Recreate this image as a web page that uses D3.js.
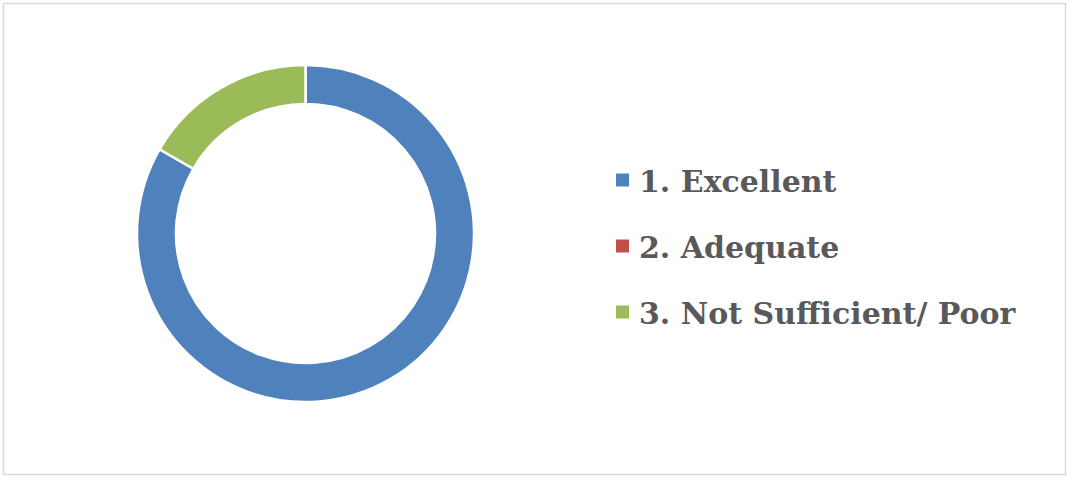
<!DOCTYPE html>
<html>
<head>
<meta charset="utf-8">
<script src="https://cdn.jsdelivr.net/npm/d3@7"></script>
<style>
  html, body { margin: 0; padding: 0; background: #fff; }
  svg { display: block; }
</style>
</head>
<body>
<svg id="chart" width="1067" height="477"></svg>
<script>
const categories = ["1. Excellent", "2. Adequate", "3. Not Sufficient/ Poor"];
const values = [5, 0, 1];
const colors = ["#4F81BD", "#C0504D", "#9BBB59"];

const svg = d3.select("#chart");

svg.append("rect")
  .attr("x", 3.5).attr("y", 3.5)
  .attr("width", 1062).attr("height", 471)
  .attr("fill", "#fff")
  .attr("stroke", "#d9d9d9").attr("stroke-width", 1.5);

const cx = 305.5, cy = 233.5, rOuter = 168.5, rInner = 129.5;

const data = categories.map((c, i) => ({ name: c, value: values[i], color: colors[i] }));

const pie = d3.pie().sort(null).value(d => d.value);
const arc = d3.arc().innerRadius(rInner).outerRadius(rOuter);

const g = svg.append("g").attr("transform", `translate(${cx},${cy})`);
g.selectAll("path")
  .data(pie(data).filter(d => d.data.value > 0))
  .join("path")
  .attr("d", arc)
  .attr("fill", d => d.data.color)
  .attr("stroke", "#fff")
  .attr("stroke-width", 2.5);

// Legend
const legendX = 616, legendY0 = 180, legendStep = 66;
const lg = svg.append("g");
const rows = lg.selectAll("g").data(data).join("g")
  .attr("transform", (d, i) => `translate(${legendX},${legendY0 + i * legendStep})`);
rows.append("rect")
  .attr("x", 0).attr("y", -6.5)
  .attr("width", 13).attr("height", 13)
  .attr("fill", d => d.color);
rows.append("text")
  .attr("x", 23).attr("y", 12)
  .attr("fill", "#595959")
  .attr("font-family", "'DejaVu Serif', serif")
  .attr("font-weight", "bold")
  .attr("font-size", 30)
  .attr("xml:space", "preserve")
  .text(d => d.name);
</script>
</body>
</html>
